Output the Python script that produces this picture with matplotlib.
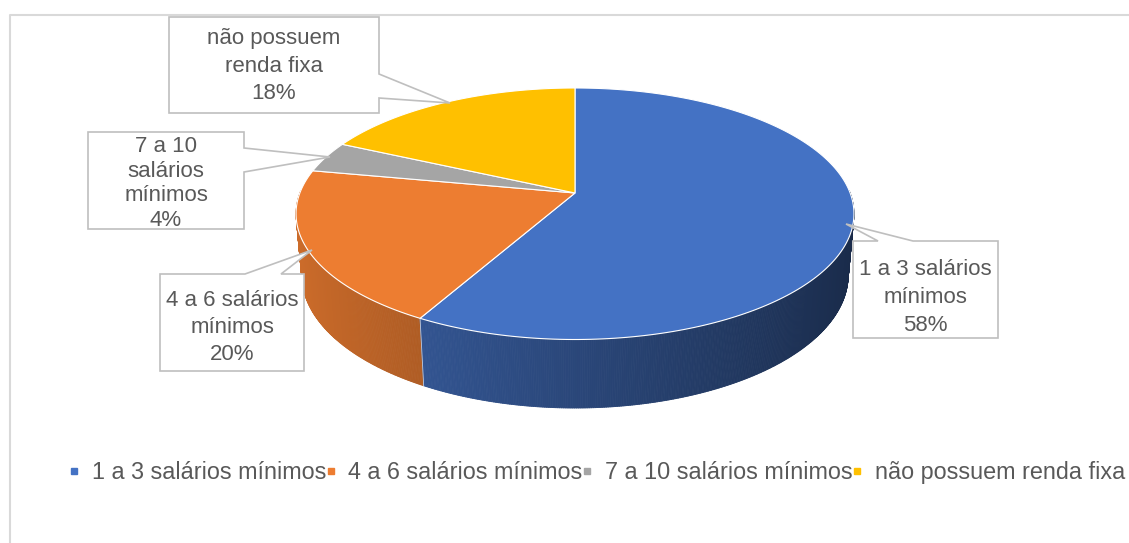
import numpy as np
import matplotlib
matplotlib.use("Agg")
import matplotlib.pyplot as plt
from matplotlib.patches import Polygon
from matplotlib.collections import PolyCollection
from matplotlib.lines import Line2D
from matplotlib.colors import to_rgb

plt.rcParams['font.family'] = ['Liberation Sans', 'DejaVu Sans']

# data
categories = ["1 a 3 salários mínimos", "4 a 6 salários mínimos",
              "7 a 10 salários mínimos", "não possuem renda fixa"]
values = [58, 20, 4, 18]
label_texts = ["1 a 3 salários\nmínimos\n58%", "4 a 6 salários\nmínimos\n20%",
               "7 a 10\nsalários\nmínimos\n4%", "não possuem\nrenda fixa\n18%"]
colors = ["#4472C4", "#ED7D31", "#A5A5A5", "#FFC000"]

TXT = "#595959"

# 3d pie projection (pixel space, y down)
cx, cy = 575, 193
F, D = 1494.0, 5.43
elev = np.radians(26.4)
h = 0.25


def proj(t, r=1.0, y=0.0):
    X = r * np.cos(t)
    Z = r * np.sin(t)
    depth = D + Z * np.cos(elev) - y * np.sin(elev)
    up = Z * np.sin(elev) + y * np.cos(elev)
    return cx + F * X / depth, cy - F * up / depth


fig = plt.figure(figsize=(11.29, 5.43), dpi=100)
ax = fig.add_axes([0, 0, 1, 1])
ax.set_xlim(0, 1129)
ax.set_ylim(543, 0)
ax.axis('off')

# chart border
ax.plot([9.5, 9.5, 1130], [544, 15, 15], color="#D9D9D9", lw=1.5)

fr = np.array(values) / sum(values)
cum = np.concatenate([[0], np.cumsum(fr)])
# math angles (counter clockwise), start at top, going clockwise
starts = np.pi / 2 - 2 * np.pi * cum[1:]
ends = np.pi / 2 - 2 * np.pi * cum[:-1]

# side walls
quads, qcols, qdepth = [], [], []
for i in range(len(values)):
    ts = np.linspace(starts[i], ends[i], max(int(np.degrees(ends[i] - starts[i]) * 3), 4))
    for t1, t2 in zip(ts[:-1], ts[1:]):
        tm = 0.5 * (t1 + t2)
        if np.sin(tm) > 0.02:
            continue
        p1 = proj(t1); p2 = proj(t2)
        p3 = proj(t2, y=-h); p4 = proj(t1, y=-h)
        quads.append([p1, p2, p3, p4])
        f = 0.62 - 0.25 * np.cos(tm)
        qcols.append(tuple(np.clip(np.array(to_rgb(colors[i])) * f, 0, 1)))
        qdepth.append(np.sin(tm))
order = np.argsort(qdepth)[::-1]
pc = PolyCollection([quads[k] for k in order], facecolors=[qcols[k] for k in order],
                    edgecolors=[qcols[k] for k in order], linewidths=0.6)
ax.add_collection(pc)

# slice boundaries on side
for t in list(starts):
    if np.sin(t) < 0:
        x1, y1 = proj(t); x2, y2 = proj(t, y=-h)
        ax.plot([x1, x2], [y1, y2], color="white", lw=0.6, alpha=0.7)

# top face
for i in range(len(values)):
    ts = np.linspace(starts[i], ends[i], 200)
    xs, ys = proj(ts)
    pts = np.column_stack([np.concatenate([[cx], xs]), np.concatenate([[cy], ys])])
    ax.add_patch(Polygon(pts, closed=True, facecolor=colors[i], edgecolor="white", lw=0.8))

# callout labels: box (x0, y0, x1, y1), side of pointer, pointer base, tip, line spacing, text shift
callouts = [
    ((853, 241, 998, 338), 'top', (878, 913), (846, 224), 1.43, 8),
    ((160, 274, 304, 371), 'top', (245, 281), (312, 250), 1.40, 5),
    ((88, 132, 244, 229), 'right', (148, 172), (330, 157), 1.21, 3),
    ((169, 17, 379, 113), 'right', (74, 98), (450, 103), 1.43, 1),
]
for (box, side, base, tip, ls, dy), txt in zip(callouts, label_texts):
    x0, y0, x1, y1 = box
    if side == 'top':
        pts = [(x0, y0), (base[0], y0), tip, (base[1], y0), (x1, y0), (x1, y1), (x0, y1)]
    else:
        pts = [(x0, y0), (x1, y0), (x1, base[0]), tip, (x1, base[1]), (x1, y1), (x0, y1)]
    ax.add_patch(Polygon(pts, closed=True, facecolor="white", edgecolor="#BFBFBF", lw=1.2))
    ax.text((x0 + x1) / 2, (y0 + y1) / 2 + dy, txt, ha='center', va='center',
            fontsize=16, color=TXT, linespacing=ls)

handles = [Line2D([], [], marker='s', ls='', color=c, markersize=4.7) for c in colors]
ax.legend(handles, categories, loc='center', bbox_to_anchor=(0.529, 0.13), ncol=4,
          frameon=False, handlelength=0.4, handletextpad=0.55, columnspacing=0.0,
          fontsize=16.8, labelcolor=TXT)

fig.savefig("out.png", dpi=100)
